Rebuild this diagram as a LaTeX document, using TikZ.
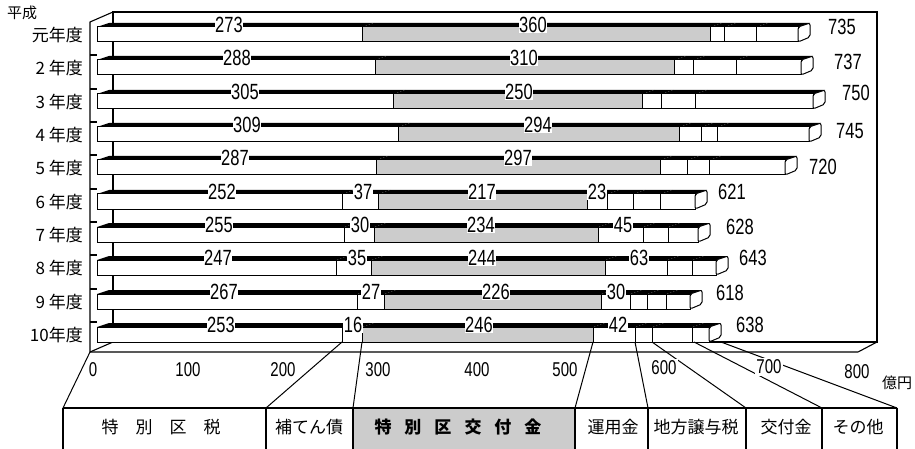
\documentclass[tikz,border=0pt]{standalone}
\usepackage{fontspec}
\setmainfont{Liberation Sans}
\newfontfamily\jp{Noto Sans CJK JP}
\newfontfamily\numfont[FakeStretch=0.75]{Liberation Sans}
\usetikzlibrary{calc}
\colorlet{kofugray}{gray!40}
\tikzset{
  frame/.style={line width=1.1pt},
  seg/.style={draw, line width=1pt},
  val/.style={font=\numfont\fontsize{22}{22}\selectfont, fill=white, inner sep=0.6pt},
  total/.style={font=\numfont\fontsize{22}{22}\selectfont, inner sep=0pt},
  axlab/.style={font=\numfont\fontsize{20}{20}\selectfont, fill=white, inner sep=1.5pt},
  yr/.style={font=\jp\fontsize{17}{17}\selectfont, anchor=east, inner sep=0pt},
  leg/.style={font=\jp\fontsize{17}{17}\selectfont, inner sep=0pt},
  conn/.style={line width=1pt},
}
% one bar: #1 top edge, #2 segments a/b/fill, #3 right end
\newcommand{\barrow}[3]{%
  \foreach \a/\b/\c in {#2} {
    \fill[black] (\a,#1) -- (\b,#1) -- (\b+12,#1-4) -- (\a+12,#1-4) -- cycle;
    \draw[seg,fill=\c] (\a,#1) rectangle (\b,#1+15);
  }
  \draw[seg,fill=white,rounded corners=2pt] (#3,#1) -- (#3+12,#1-4) -- (#3+12,#1+10) -- (#3,#1+15) -- cycle;
}

\begin{document}
\begin{tikzpicture}[x=1pt,y=-1pt]
\useasboundingbox (0,0) rectangle (915,449);

% walls and floor
\draw[frame] (113,12) rectangle (877,342);
\draw[frame] (90,352) -- (90,22) -- (113,12);
\draw[frame] (90,352) -- (858,352) -- (877,342);
\draw[frame] (90,352) -- (113,342);
\foreach \t in {60,94,127,160,194,227,260,294,327}
  \draw[frame] (90,\t-5) -- (97,\t-5);

% bars
\barrow{27}{97/362/white, 362/710/kofugray, 710/724/white, 724/756/white, 756/798/white}{798}
\barrow{60}{97/375/white, 375/674/kofugray, 674/693/white, 693/736/white, 736/801/white}{801}
\barrow{94}{97/393/white, 393/642/kofugray, 642/661/white, 661/695/white, 695/813/white}{813}
\barrow{127}{97/398/white, 398/679/kofugray, 679/701/white, 701/717/white, 717/809/white}{809}
\barrow{160}{97/376/white, 376/660/kofugray, 660/687/white, 687/709/white, 709/785/white}{785}
\barrow{194}{97/342/white, 342/378/white, 378/587/kofugray, 587/607/white, 607/633/white, 633/660/white, 660/695/white}{695}
\barrow{227}{97/344/white, 344/374/white, 374/598/kofugray, 598/643/white, 643/668/white, 668/698/white}{698}
\barrow{260}{97/336/white, 336/371/white, 371/605/kofugray, 605/667/white, 667/692/white, 692/716/white}{716}
\barrow{294}{97/357/white, 357/384/white, 384/601/kofugray, 601/630/white, 630/647/white, 647/666/white, 666/690/white}{690}
\barrow{327}{97/342/white, 342/362/white, 362/593/kofugray, 593/635/white, 635/652/white, 652/692/white, 692/709/white}{709}

% values on the bars
\foreach \n/\x/\y/\t in {r0a/229/25/273, r0b/533/25/360,
    r1a/237/58/288, r1b/524/58/310,
    r2a/245/92/305, r2b/519/92/250,
    r3a/247/125/309, r3b/538/125/294,
    r4a/235/158/287, r4b/518/158/297,
    r5a/222/192/252, r5b/363/192/37, r5c/482/192/217, r5d/597/192/23,
    r6a/219/225/255, r6b/360/225/30, r6c/481/225/234, r6d/623/225/45,
    r7a/218/258/247, r7b/357/258/35, r7c/482/258/244, r7d/639/258/63,
    r8a/224/292/267, r8b/371/292/27, r8c/496/292/226, r8d/616/292/30,
    r9a/221/325/253, r9b/353/325/16, r9c/479/325/246, r9d/618/325/42}
  \node[val] (\n) at (\x,\y) {\t};

% totals
\foreach \n/\x/\y/\t in {s0/842/27/735, s1/848/62/737, s2/856/93/750, s3/850/131/745,
    s4/823/167/720, s5/732/192/621, s6/740/227/628, s7/753/258/643, s8/730/293/618, s9/750/325/638}
  \node[total] (\n) at (\x,\y) {\t};

% years
\node[font=\jp\fontsize{15}{15}\selectfont, inner sep=0pt] (heisei) at (22,13) {平成};
\node[yr] (y0) at (83,35) {元年度};
\node[yr] (y1) at (83,68) {2 年度};
\node[yr] (y2) at (83,102) {3 年度};
\node[yr] (y3) at (83,135) {4 年度};
\node[yr] (y4) at (83,168) {5 年度};
\node[yr] (y5) at (83,202) {6 年度};
\node[yr] (y6) at (83,235) {7 年度};
\node[yr] (y7) at (83,268) {8 年度};
\node[yr] (y8) at (83,302) {9 年度};
\node[yr] (y9) at (83,335) {10年度};

% legend
\fill[kofugray] (353,408) rectangle (575,449);
\draw[frame] (63,408) -- (897,408);
\foreach \x [count=\i from 0] in {63,266,353,575,648,746,822,897} {
  \coordinate (L\i) at (\x,408);
  \draw[frame] (L\i) -- (\x,449);
}
\node[leg] (t1) at (161,427) {特\hspace{17pt}別\hspace{17pt}区\hspace{17pt}税};
\node[leg] (t2) at (309,427) {補てん債};
\node[leg,font=\jp\bfseries\fontsize{17}{17}\selectfont] (t3) at (458,427) {特\hspace{13pt}別\hspace{13pt}区\hspace{13pt}交\hspace{13pt}付\hspace{13pt}金};
\node[leg] (t4) at (613,427) {運用金};
\node[leg] (t5) at (696,427) {地方譲与税};
\node[leg] (t6) at (786,427) {交付金};
\node[leg] (t7) at (858,427) {その他};

% connectors to the 10年度 bar
\coordinate (fl) at (90,352);
\coordinate (b1) at (342,342);
\coordinate (b2) at (362,342);
\coordinate (b3) at (593,342);
\coordinate (b4) at (635,342);
\coordinate (b5) at (652,342);
\coordinate (b6) at (694,342);
\coordinate (b7) at (721,342);
\draw[conn] (L0) -- (fl);
\foreach \i in {1,...,7}
  \draw[conn] (L\i) -- (b\i);

% axis
\foreach \n/\x/\y/\t in {a0/93/370/0, a1/188/370/100, a2/283/370/200, a3/378/370/300,
    a4/477/370/400, a5/565/370/500, a6/664/368/600, a7/769/367/700, a8/857/372/800}
  \node[axlab] (\n) at (\x,\y) {\t};
\node[font=\jp\fontsize{15}{15}\selectfont, inner sep=0pt] (unit) at (897,383) {億円};
\end{tikzpicture}
\end{document}
